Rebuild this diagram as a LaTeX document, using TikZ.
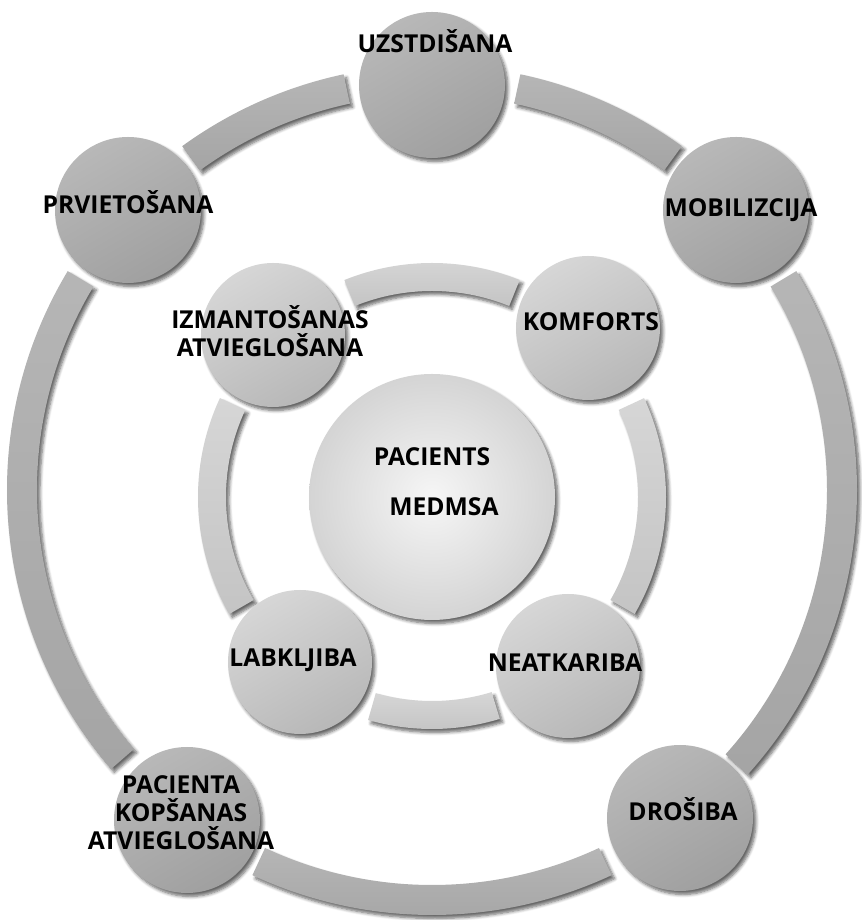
\documentclass[tikz,border=0pt]{standalone}
\usepackage{fontspec}
\setmainfont{Open Sans}
\usepackage{tikz}
\usetikzlibrary{shadows, shadows.blur, calc}
\definecolor{outerlight}{RGB}{184,184,184}
\definecolor{outerdark}{RGB}{160,160,160}
\definecolor{innerlight}{RGB}{214,214,214}
\definecolor{innerdark}{RGB}{184,184,184}
\definecolor{corelight}{RGB}{246,246,246}
\definecolor{coredark}{RGB}{212,212,212}
\tikzstyle{shd}=[%
      blur shadow={shadow xshift=2.2pt, shadow yshift=-2.6pt, shadow blur radius=2.4pt,
      shadow blur steps=6, shadow opacity=60}
]
\tikzstyle{outer}=[%
      circle, shd, minimum size=109.5pt, inner sep=0pt,
      top color=outerlight, bottom color=outerdark, shading angle=30
]
\tikzstyle{inner}=[%
      circle, shd, minimum size=108pt, inner sep=0pt,
      top color=innerlight, bottom color=innerdark, shading angle=30
]
\tikzstyle{core}=[%
      circle, shd, minimum size=184.5pt, inner sep=0pt,
      inner color=corelight, outer color=coredark
]
\tikzstyle{outerband}=[shd, top color=outerlight!90!outerdark, bottom color=outerdark!80!outerlight]
\tikzstyle{innerband}=[shd, top color=innerlight, bottom color=innerdark!60!innerlight]
\tikzstyle{lbl}=[%
      font=\fontsize{18.5}{21}\selectfont\bfseries, align=center, inner sep=0pt, text=black
]
% ring segment: style, centre, from, to, radius, half width
\newcommand{\ringseg}[6]{%
  \path[#1] ([shift={(#3:#5+#6)}]#2) arc[start angle=#3, end angle=#4, radius=#5+#6]
     -- ([shift={(#4:#5-#6)}]#2) arc[start angle=#4, end angle=#3, radius=#5-#6] -- cycle;}

\begin{document}
\begin{tikzpicture}[x=0.75pt, y=0.75pt]
    \useasboundingbox (0,0) rectangle (862,920);
    \coordinate (O) at (432,430);
    \coordinate (I) at (432,423);

    % outer ring
    \ringseg{outerband}{O}{102}{126}{410}{15}
    \ringseg{outerband}{O}{54}{78}{410}{15}
    \ringseg{outerband}{O}{149}{221}{410}{15}
    \ringseg{outerband}{O}{-42}{31}{410}{15}
    \ringseg{outerband}{O}{245}{295}{410}{15}

    % inner ring
    \ringseg{innerband}{I}{68}{112}{220}{14}
    \ringseg{innerband}{I}{155}{210}{220}{14}
    \ringseg{innerband}{I}{-30}{25}{220}{14}
    \ringseg{innerband}{I}{254}{287}{218}{14}

    \node[outer] (uzst) at (432,835) {};
    \node[outer] (prv)  at (128,710) {};
    \node[outer] (mob)  at (736,710) {};
    \node[outer] (kops) at (187,100) {};
    \node[outer] (dros) at (680,102) {};

    \node[inner] (izm)  at (273,585) {};
    \node[inner] (komf) at (588,592) {};
    \node[inner] (labk) at (300,258) {};
    \node[inner] (neat) at (568,254) {};

    \node[core]  (pac)  at (I) {};

    \node[lbl] (uzst-t) at (435,879) {UZSTDIŠANA};
    \node[lbl] (prv-t)  at (128,718) {PRVIETOŠANA};
    \node[lbl] (mob-t)  at (741,710) {MOBILIZCIJA};
    \node[lbl] (izm-t)  at (270,589) {IZMANTOŠANAS\\ATVIEGLOŠANA};
    \node[lbl] (komf-t) at (591,598) {KOMFORTS};
    \node[lbl] (pac-t)  at (432,463) {PACIENTS};
    \node[lbl] (med-t)  at (444,413) {MEDMSA};
    \node[lbl] (labk-t) at (293,260) {LABKLJIBA};
    \node[lbl] (neat-t) at (565,257) {NEATKARIBA};
    \node[lbl] (kops-t) at (181,107) {PACIENTA\\KOPŠANAS\\ATVIEGLOŠANA};
    \node[lbl] (dros-t) at (683,111) {DROŠIBA};
\end{tikzpicture}
\end{document}
